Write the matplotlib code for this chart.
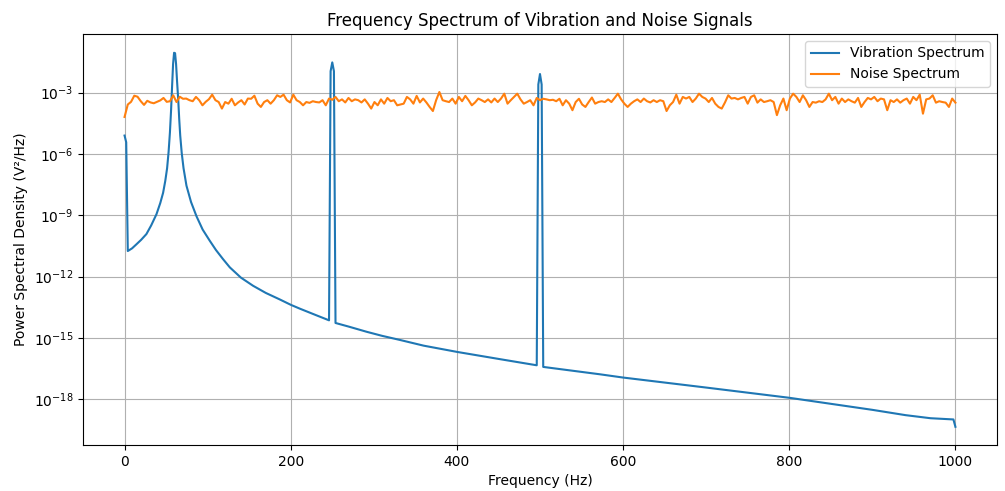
import numpy as np
import matplotlib
matplotlib.use("Agg")
import matplotlib.pyplot as plt

# vibration spectrum (freq in Hz, log10 of PSD)
vib_freq = [0, 2.0, 3.9, 9.0, 14.3, 20.0, 26.3, 32.0, 38.4, 43.0, 46.4, 49.0,
            51.2, 53.0, 54.6, 56.0, 57.2, 58.4, 59.6, 60.8, 62.0, 63.2, 64.6,
            65.8, 67.0, 68.8, 71.0, 74.5, 80.0, 86.6, 94.0, 102.6, 110.0,
            118.6, 126.7, 140.0, 154.7, 170.0, 186.9, 200.0, 211.0, 230.0,
            246.1, 248.0, 250.0, 252.0, 253.9, 270.0, 291.3, 310.0, 331.4, 360.0,
            400.8, 451.8, 496.1, 498.0, 500.0, 502.0, 503.9, 572.0, 600.0,
            700.0, 800.0, 900.0, 940.0, 970.0, 997.6, 1000.0]
vib_log = [-5.10, -5.43, -10.75, -10.62, -10.42, -10.20, -9.92, -9.50, -8.95, -8.40,
           -7.90, -7.32, -6.70, -5.90, -4.95, -3.85, -2.70, -1.60, -1.05, -1.07,
           -1.60, -2.45, -3.35, -4.30, -5.10, -5.95, -6.70, -7.55, -8.35, -9.05,
           -9.70, -10.25, -10.70, -11.15, -11.55, -12.05, -12.45, -12.80, -13.12,
           -13.38, -13.57, -13.88,
           -14.14, -1.95, -1.52, -1.95, -14.27, -14.45, -14.70, -14.90, -15.10,
           -15.38, -15.69, -16.04, -16.34, -2.60, -2.09, -2.60, -16.42, -16.78,
           -16.94, -17.43, -17.93, -18.52, -18.78, -18.93, -18.99, -19.35]

# noise spectrum, 257 Welch bins from 0 to 1000 Hz (log10 of PSD)
noise_log = [
    -4.19, -3.58, -3.45, -3.15, -3.20, -3.42, -3.60, -3.40, -3.48, -3.52,
    -3.45, -3.38, -3.26, -3.45, -3.42, -3.13, -3.46, -3.20, -3.30, -3.29,
    -3.37, -3.42, -3.21, -3.37, -3.62, -3.45, -3.32, -3.10, -3.37, -3.46,
    -3.78, -3.46, -3.54, -3.30, -3.62, -3.48, -3.37, -3.58, -3.29, -3.30,
    -3.15, -3.54, -3.70, -3.46, -3.37, -3.54, -3.37, -3.13, -3.21, -3.10,
    -3.37, -3.48, -3.10, -3.37, -3.46, -3.62, -3.46, -3.50, -3.42, -3.46,
    -3.48, -3.37, -3.62, -3.29, -3.35,
    -3.21, -3.42, -3.33, -3.48, -3.26, -3.42, -3.33, -3.37, -3.48, -3.33,
    -3.54, -3.78, -3.46, -3.62, -3.33, -3.54, -3.26, -3.42, -3.37, -3.62,
    -3.58, -3.54, -3.21, -3.33, -3.54, -3.16, -3.48, -3.29, -3.48, -3.70,
    -3.90, -3.37, -2.97, -3.37, -3.42, -3.46, -3.29, -3.54, -3.21, -3.42,
    -3.16, -3.37, -3.62, -3.48, -3.29, -3.37, -3.46, -3.33, -3.48, -3.29,
    -3.46, -3.29, -3.05, -3.54, -3.37, -3.21, -3.05, -3.33, -3.54, -3.46,
    -3.37, -3.62, -3.26, -3.37, -3.30,
    -3.33, -3.37, -3.35, -3.42, -3.30, -3.62, -3.37, -3.54, -3.86, -3.46,
    -3.30, -3.58, -3.70, -3.46, -3.24, -3.54, -3.46, -3.42, -3.46, -3.33,
    -3.46, -3.26, -3.05, -3.33, -3.54, -3.70, -3.54, -3.42, -3.33, -3.46,
    -3.29, -3.42, -3.48, -3.37, -3.46, -3.37, -3.42, -3.90, -3.62, -3.46,
    -3.10, -3.54, -3.21, -3.29, -3.21, -3.46, -3.29, -3.05, -3.21, -3.29,
    -3.46, -3.26, -3.54, -3.70, -3.78, -3.48, -3.13, -3.29, -3.26, -3.33,
    -3.26, -3.21, -3.54, -3.21, -3.13,
    -3.49, -3.33, -3.46, -3.42, -3.37, -3.46, -4.10, -3.62, -3.29, -3.86,
    -3.29, -3.05, -3.21, -3.46, -3.13, -3.37, -3.70, -3.46, -3.49, -3.42,
    -3.46, -3.33, -3.05, -3.37, -3.21, -3.54, -3.29, -3.46, -3.33, -3.42,
    -3.49, -3.26, -3.70, -3.46, -3.26, -3.33, -3.21, -3.42, -3.29, -3.33,
    -3.86, -3.37, -3.46, -3.33, -3.49, -3.37, -3.29, -3.54, -3.21, -3.37,
    -3.10, -4.03, -3.33, -3.29, -3.13, -3.49, -3.42, -3.46, -3.49, -3.70,
    -3.29, -3.49]

noise_freq = np.linspace(0, 1000, len(noise_log))

fig, ax = plt.subplots(figsize=(10.05, 4.91), dpi=100)
ax.plot(vib_freq, 10 ** np.array(vib_log), label='Vibration Spectrum')
ax.plot(noise_freq, 10 ** np.array(noise_log), label='Noise Spectrum')
ax.set_yscale('log')
ax.set_ylim(10 ** -20.24, 10 ** -0.13)
ax.set_title('Frequency Spectrum of Vibration and Noise Signals')
ax.set_xlabel('Frequency (Hz)')
ax.set_ylabel('Power Spectral Density (V²/Hz)')
ax.legend(loc='upper right')
ax.grid(True)
plt.subplots_adjust(left=0.0826, right=0.992, top=0.9308, bottom=0.0937)
plt.savefig('out.png')
